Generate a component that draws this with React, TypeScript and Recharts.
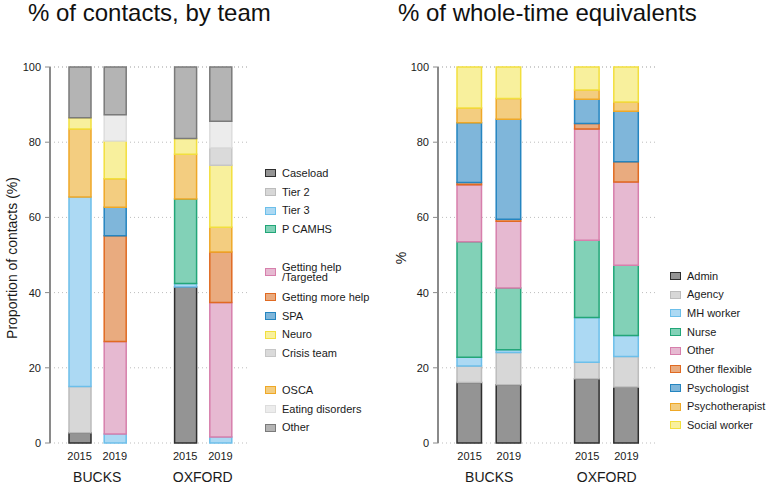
import React from 'react'
import { BarChart, Bar, XAxis, YAxis, CartesianGrid, Legend } from 'recharts'

const FONT = '"Liberation Sans", Arial, Helvetica, sans-serif'

// x slots: two years per site, with an empty slot between the sites
const SLOTS = ['b2015', 'b2019', 'gap', 'o2015', 'o2019']
const YEARS = ['2015', '2019', '', '2015', '2019']
const SITES = ['BUCKS', '', '', 'OXFORD', '']
const BAR_SLOTS = ['b2015', 'b2019', 'o2015', 'o2019']
const Y_TICKS = [0, 20, 40, 60, 80, 100]

// % of contacts by team: Bucks 2015, Bucks 2019, Oxford 2015, Oxford 2019
const caseload = [2.7, 0, 41.5, 0]
const tier2 = [12.3, 0, 0, 0]
const tier3 = [50.4, 2.4, 0.9, 1.6]
const pCamhs = [0, 0, 22.5, 0]
const gettingHelp = [0, 24.6, 0, 35.8]
const gettingMoreHelp = [0, 28.1, 0, 13.4]
const spa = [0, 7.6, 0, 0]
const osca = [18.1, 7.6, 11.9, 6.6]
const neuro = [3.0, 10.0, 4.2, 16.5]
const crisisTeam = [0, 0, 0, 4.6]
const eatingDisorders = [0, 7.0, 0, 7.1]
const otherTeam = [13.5, 12.7, 19.0, 14.4]

// % of whole-time equivalents by staff group
const admin = [16.1, 15.5, 17.1, 14.9]
const agency = [4.4, 8.6, 4.4, 8.1]
const mhWorker = [2.3, 0.7, 11.9, 5.6]
const nurse = [30.7, 16.4, 20.5, 18.7]
const otherStaff = [15.2, 17.8, 29.6, 22.1]
const otherFlexible = [0.6, 0.5, 1.5, 5.4]
const psychologist = [15.9, 26.6, 6.4, 13.4]
const psychotherapist = [3.9, 5.5, 2.5, 2.5]
const socialWorker = [10.9, 8.4, 6.1, 9.3]

// stacking order, bottom to top
const TEAM_SERIES = [
  { key: 'caseload', name: 'Caseload', values: caseload },
  { key: 'tier2', name: 'Tier 2', values: tier2 },
  { key: 'tier3', name: 'Tier 3', values: tier3 },
  { key: 'pCamhs', name: 'P CAMHS', values: pCamhs },
  { key: 'gettingHelp', name: 'Getting help\n/Targeted', values: gettingHelp },
  { key: 'gettingMoreHelp', name: 'Getting more help', values: gettingMoreHelp },
  { key: 'spa', name: 'SPA', values: spa },
  { key: 'osca', name: 'OSCA', values: osca },
  { key: 'neuro', name: 'Neuro', values: neuro },
  { key: 'crisisTeam', name: 'Crisis team', values: crisisTeam },
  { key: 'eatingDisorders', name: 'Eating disorders', values: eatingDisorders },
  { key: 'otherTeam', name: 'Other', values: otherTeam },
]
const TEAM_LEGEND = ['caseload', 'tier2', 'tier3', 'pCamhs', null, 'gettingHelp', 'gettingMoreHelp', 'spa', 'neuro', 'crisisTeam', null, 'osca', 'eatingDisorders', 'otherTeam']

const STAFF_SERIES = [
  { key: 'admin', name: 'Admin', values: admin },
  { key: 'agency', name: 'Agency', values: agency },
  { key: 'mhWorker', name: 'MH worker', values: mhWorker },
  { key: 'nurse', name: 'Nurse', values: nurse },
  { key: 'otherStaff', name: 'Other', values: otherStaff },
  { key: 'otherFlexible', name: 'Other flexible', values: otherFlexible },
  { key: 'psychologist', name: 'Psychologist', values: psychologist },
  { key: 'psychotherapist', name: 'Psychotherapist', values: psychotherapist },
  { key: 'socialWorker', name: 'Social worker', values: socialWorker },
]
const STAFF_LEGEND = STAFF_SERIES.map(s => s.key)

const COLORS: Record<string, { fill: string; stroke: string }> = {
  caseload: { fill: '#949494', stroke: '#2e2e2e' },
  admin: { fill: '#949494', stroke: '#2e2e2e' },
  tier2: { fill: '#d7d7d7', stroke: '#bcbcbc' },
  agency: { fill: '#d7d7d7', stroke: '#bcbcbc' },
  tier3: { fill: '#acd9f3', stroke: '#6cbfea' },
  mhWorker: { fill: '#acd9f3', stroke: '#6cbfea' },
  pCamhs: { fill: '#82d1b7', stroke: '#22a678' },
  nurse: { fill: '#82d1b7', stroke: '#22a678' },
  gettingHelp: { fill: '#e6b9d1', stroke: '#d77fac' },
  otherStaff: { fill: '#e6b9d1', stroke: '#d77fac' },
  gettingMoreHelp: { fill: '#e9ab7f', stroke: '#e06a22' },
  otherFlexible: { fill: '#e9ab7f', stroke: '#e06a22' },
  spa: { fill: '#7fb6da', stroke: '#2585c0' },
  psychologist: { fill: '#7fb6da', stroke: '#2585c0' },
  osca: { fill: '#f3cd80', stroke: '#efa827' },
  psychotherapist: { fill: '#f3cd80', stroke: '#efa827' },
  neuro: { fill: '#f8f09d', stroke: '#f2df3e' },
  socialWorker: { fill: '#f8f09d', stroke: '#f2df3e' },
  crisisTeam: { fill: '#dadada', stroke: '#c6c6c6' },
  eatingDisorders: { fill: '#ececec', stroke: '#dddddd' },
  otherTeam: { fill: '#b4b4b4', stroke: '#7a7a7a' },
}

type Series = { key: string; name: string; values: number[] }

function buildRows(series: Series[]) {
  return SLOTS.map(slot => {
    const row: Record<string, any> = { slot }
    const j = BAR_SLOTS.indexOf(slot)
    if (j >= 0) series.forEach(s => { row[s.key] = s.values[j] })
    return row
  })
}

function SlotTick(props: any) {
  const { x, y, payload } = props
  const i = SLOTS.indexOf(payload.value)
  const half = payload.offset || 0
  return (
    <g fontFamily={FONT} fill="#1a1a1a">
      <text x={x} y={y + 17} textAnchor="middle" fontSize={11}>{YEARS[i]}</text>
      {SITES[i] ? <text x={x + half} y={y + 39} textAnchor="middle" fontSize={14}>{SITES[i]}</text> : null}
    </g>
  )
}

function LegendBox({ items, series }: { items: (string | null)[]; series: Series[] }) {
  return (
    <div style={{ fontFamily: FONT, fontSize: 11, color: '#1a1a1a' }}>
      {items.map((k, i) => {
        if (k === null) return <div key={'gap' + i} style={{ height: 18 }} />
        const s = series.find(d => d.key === k)!
        const twoLine = s.name.includes('\n')
        return (
          <div key={k} style={{ display: 'flex', alignItems: 'center', height: twoLine ? 31.3 : 18.7 }}>
            <span style={{ boxSizing: 'border-box', width: 11, height: 8, background: COLORS[k].fill, border: `1px solid ${COLORS[k].stroke}`, marginRight: 6, flexShrink: 0 }} />
            <span style={{ whiteSpace: 'pre', lineHeight: '10.6px' }}>{s.name}</span>
          </div>
        )
      })}
    </div>
  )
}

function StackPanel({ series, legend, yLabel, labelOffset, legendLeft, legendTop, barSize, rightMargin }: {
  series: Series[]; legend: (string | null)[]; yLabel: string; labelOffset: number; legendLeft: number; legendTop: number; barSize: number; rightMargin: number
}) {
  const rows = buildRows(series)
  const width = 50 + 200 + rightMargin + (barSize > 23 ? 20 : 0)
  return (
    <BarChart width={width} height={485} data={rows} margin={{ top: 67, right: rightMargin, left: 0, bottom: 0 }} barSize={barSize}>
      <CartesianGrid vertical={false} stroke="#bdbdbd" strokeDasharray="1 3" />
      <XAxis
        dataKey="slot"
        interval={0}
        height={42}
        axisLine={false}
        tickLine={false}
        tickSize={0}
        tickMargin={0}
        padding={{ left: 12, right: 12 }}
        tick={<SlotTick />}
      />
      <YAxis
        width={50}
        domain={[0, 100]}
        ticks={Y_TICKS}
        interval={0}
        axisLine={{ stroke: '#8a8a8a', strokeWidth: 2 }}
        tickLine={{ stroke: '#8a8a8a' }}
        tickSize={5}
        tickMargin={4}
        tick={{ fontSize: 11, fill: '#1a1a1a', fontFamily: FONT }}
        label={{ value: yLabel, angle: -90, position: 'insideLeft', offset: labelOffset, dy: 3, style: { textAnchor: 'middle', fontSize: 14, fill: '#1a1a1a', fontFamily: FONT } }}
      />
      <Legend
        layout="vertical"
        align="center"
        verticalAlign="middle"
        wrapperStyle={{ left: legendLeft, top: legendTop, width: 120 }}
        content={() => <LegendBox items={legend} series={series} />}
      />
      {series.map(s => (
        <Bar
          key={s.key}
          dataKey={s.key}
          name={s.name}
          stackId="a"
          fill={COLORS[s.key].fill}
          stroke={COLORS[s.key].stroke}
          strokeWidth={1.5}
          isAnimationActive={false}
        />
      ))}
    </BarChart>
  )
}

const titleStyle: React.CSSProperties = {
  position: 'absolute', top: 1, fontFamily: FONT, fontSize: 24, lineHeight: '24px', color: '#111', whiteSpace: 'nowrap',
}

export default function App() {
  return (
    <div style={{ position: 'absolute', left: 0, top: 0, width: 771, height: 485, background: '#fff', overflow: 'hidden' }}>
      <div style={{ ...titleStyle, left: 28 }}>% of contacts, by team</div>
      <div style={{ ...titleStyle, left: 398 }}>% of whole-time equivalents</div>
      <div style={{ position: 'absolute', left: 0, top: 0 }}>
        <StackPanel series={TEAM_SERIES} legend={TEAM_LEGEND} yLabel="Proportion of contacts (%)" labelOffset={12} legendLeft={265} legendTop={164} barSize={22} rightMargin={135} />
      </div>
      <div style={{ position: 'absolute', left: 388, top: 0 }}>
        <StackPanel series={STAFF_SERIES} legend={STAFF_LEGEND} yLabel="%" labelOffset={13} legendLeft={282} legendTop={266.6} barSize={24.5} rightMargin={113} />
      </div>
    </div>
  )
}
